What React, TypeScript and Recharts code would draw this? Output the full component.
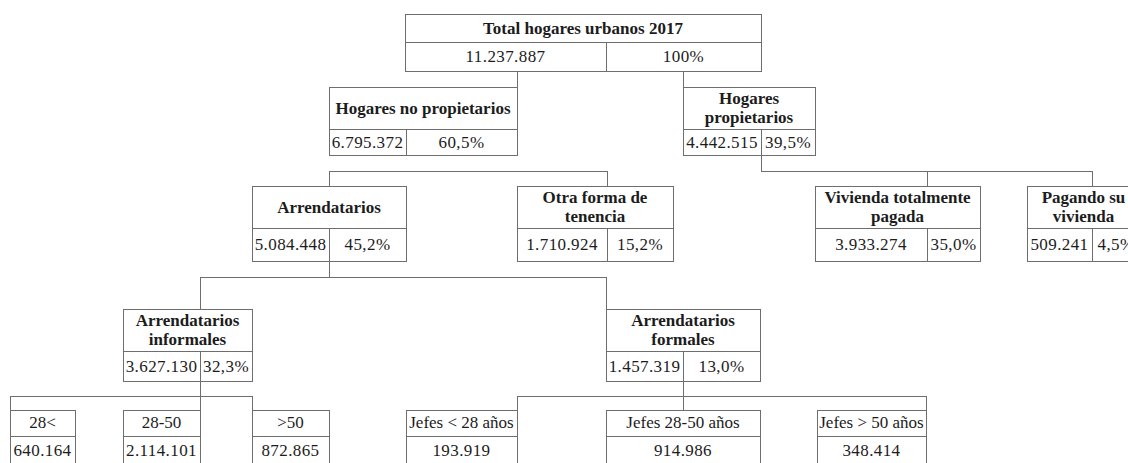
import React from 'react';
import { ComposedChart, XAxis, YAxis, ReferenceArea, ReferenceLine, Scatter } from 'recharts';

// --- data -------------------------------------------------------------
const nodeLabels: string[][] = [
  ['Total hogares urbanos 2017'],
  ['Hogares no propietarios'],
  ['Hogares', 'propietarios'],
  ['Arrendatarios'],
  ['Otra forma de', 'tenencia'],
  ['Vivienda totalmente', 'pagada'],
  ['Pagando su', 'vivienda'],
  ['Arrendatarios', 'informales'],
  ['Arrendatarios', 'formales'],
  ['28<'],
  ['28-50'],
  ['>50'],
  ['Jefes < 28 años'],
  ['Jefes 28-50 años'],
  ['Jefes > 50 años'],
];
const households = [
  11237887, 6795372, 4442515, 5084448, 1710924, 3933274, 509241,
  3627130, 1457319, 640164, 2114101, 872865, 193919, 914986, 348414,
];
const shares: (number | null)[] = [
  100, 60.5, 39.5, 45.2, 15.2, 35.0, 4.5, 32.3, 13.0,
  null, null, null, null, null, null,
];
const parents = [-1, 0, 0, 1, 1, 2, 2, 3, 3, 7, 7, 7, 8, 8, 8];

// --- layout (chart units = px) -----------------------------------------
const nodeLevel = [0, 1, 1, 2, 2, 2, 2, 3, 3, 4, 4, 4, 4, 4, 4];
const nodeLeft = [405, 329, 683, 252, 517, 815, 1027, 123, 606, 10, 123, 252, 406, 606, 817];
const nodeRight = [761, 517, 815, 406, 673, 980, 1140, 252, 760, 75, 200, 329, 517, 760, 926];
const nodeSplit: (number | null)[] = [606, 406, 761, 329, 607, 927, 1092, 200, 683, null, null, null, null, null, null];
const levelTop = [14, 87, 186, 309, 410];
const levelMid = [42, 129, 228, 351, 436];
const levelBottom = [71, 155, 261, 381, 466];
const busY: (number | null)[] = [null, 171, 277, 396];
const stemX: (number | null)[] = [null, null, 761, 329, null, null, null, 200, 683, null, null, null, null, null, null];
const dropX: (number | null)[] = [null, 517, 683, 329, 607, 927, 1092, 200, 606, 10, 200, 252, 517, 683, 926];

const W = 1128;
const H = 463;
const FONT = "'Liberation Serif', 'Times New Roman', 'DejaVu Serif', serif";
const BORDER = '#6e6e6e';
const TEXT = '#1c1c1c';

const fmtCount = (n: number) => String(n).replace(/\B(?=(\d{3})+(?!\d))/g, '.');
const fmtShare = (v: number) => (v === 100 ? '100%' : v.toFixed(1).replace('.', ',') + '%');

const cellText = (lines: string[], bold: boolean, shift = 5.9, spacing = 0) => (props: any) => {
  const { x, y, width, height } = props.viewBox;
  const cx = x + width / 2;
  const lh = 19;
  const y0 = y + height / 2 - ((lines.length - 1) * lh) / 2 + shift;
  return (
    <text textAnchor="middle" fill={TEXT}
      style={{ fontFamily: FONT, fontSize: 17, fontWeight: bold ? 700 : 400, letterSpacing: spacing }}>
      {lines.map((l, i) => (
        <tspan key={i} x={cx} y={y0 + i * lh}>{l}</tspan>
      ))}
    </text>
  );
};

type Seg = [number, number, number, number];

const buildConnectors = (): Seg[] => {
  const segs: Seg[] = [];
  parents.forEach((_, p) => {
    const kids = parents.map((q, i) => (q === p ? i : -1)).filter((i) => i >= 0);
    if (!kids.length) return;
    const lv = nodeLevel[p];
    const bus = busY[lv];
    if (bus == null) {
      kids.forEach((c) => segs.push([dropX[c] as number, levelBottom[lv], dropX[c] as number, levelTop[lv + 1]]));
      return;
    }
    const xs = kids.map((c) => dropX[c] as number);
    const s = stemX[p];
    if (s != null) {
      xs.push(s);
      segs.push([s, levelBottom[lv], s, bus]);
    }
    segs.push([Math.min(...xs), bus, Math.max(...xs), bus]);
    kids.forEach((c) => segs.push([dropX[c] as number, bus, dropX[c] as number, levelTop[lv + 1]]));
  });
  return segs;
};

const anchors = nodeLabels.map((_, i) => ({ x: (nodeLeft[i] + nodeRight[i]) / 2, y: levelTop[nodeLevel[i]] }));

export default function App() {
  const connectors = buildConnectors();
  const cells: React.ReactNode[] = [];
  nodeLabels.forEach((lines, i) => {
    const lv = nodeLevel[i];
    const leaf = lv === 4;
    const common = { stroke: BORDER, strokeWidth: 1, fill: '#ffffff', fillOpacity: 1, ifOverflow: 'visible' as const, shapeRendering: 'crispEdges' };
    cells.push(
      <ReferenceArea key={`h${i}`} x1={nodeLeft[i]} x2={nodeRight[i]} y1={levelTop[lv]} y2={levelMid[lv]} {...common}
        label={cellText(lines, !leaf, leaf ? 4.5 : 5.9)} />
    );
    const split = nodeSplit[i];
    const share = shares[i];
    if (split != null && share != null) {
      cells.push(
        <ReferenceArea key={`a${i}`} x1={nodeLeft[i]} x2={split} y1={levelMid[lv]} y2={levelBottom[lv]} {...common}
          label={cellText([fmtCount(households[i])], false, 5.9, 0.4)} />
      );
      cells.push(
        <ReferenceArea key={`b${i}`} x1={split} x2={nodeRight[i]} y1={levelMid[lv]} y2={levelBottom[lv]} {...common}
          label={cellText([fmtShare(share)], false, 5.9, 0.4)} />
      );
    } else {
      cells.push(
        <ReferenceArea key={`a${i}`} x1={nodeLeft[i]} x2={nodeRight[i]} y1={levelMid[lv]} y2={levelBottom[lv]} {...common}
          label={cellText([fmtCount(households[i])], false, leaf ? 4.5 : 5.9, 0.4)} />
      );
    }
  });

  return (
    <div style={{ position: 'absolute', left: 0, top: 0, width: W, height: H, background: '#fff' }}>
      <ComposedChart width={W} height={H} margin={{ top: 0, right: 0, bottom: 0, left: 0 }} data={anchors}>
        <XAxis type="number" dataKey="x" domain={[0, W]} hide allowDataOverflow />
        <YAxis type="number" dataKey="y" domain={[0, H]} reversed hide allowDataOverflow />
        {connectors.map((s, i) => (
          <ReferenceLine key={`c${i}`} segment={[{ x: s[0], y: s[1] }, { x: s[2], y: s[3] }]}
            stroke={BORDER} strokeWidth={1} ifOverflow="visible" shapeRendering="crispEdges" />
        ))}
        {cells}
        <Scatter data={anchors} dataKey="y" isAnimationActive={false} shape={() => <g />} />
      </ComposedChart>
    </div>
  );
}
